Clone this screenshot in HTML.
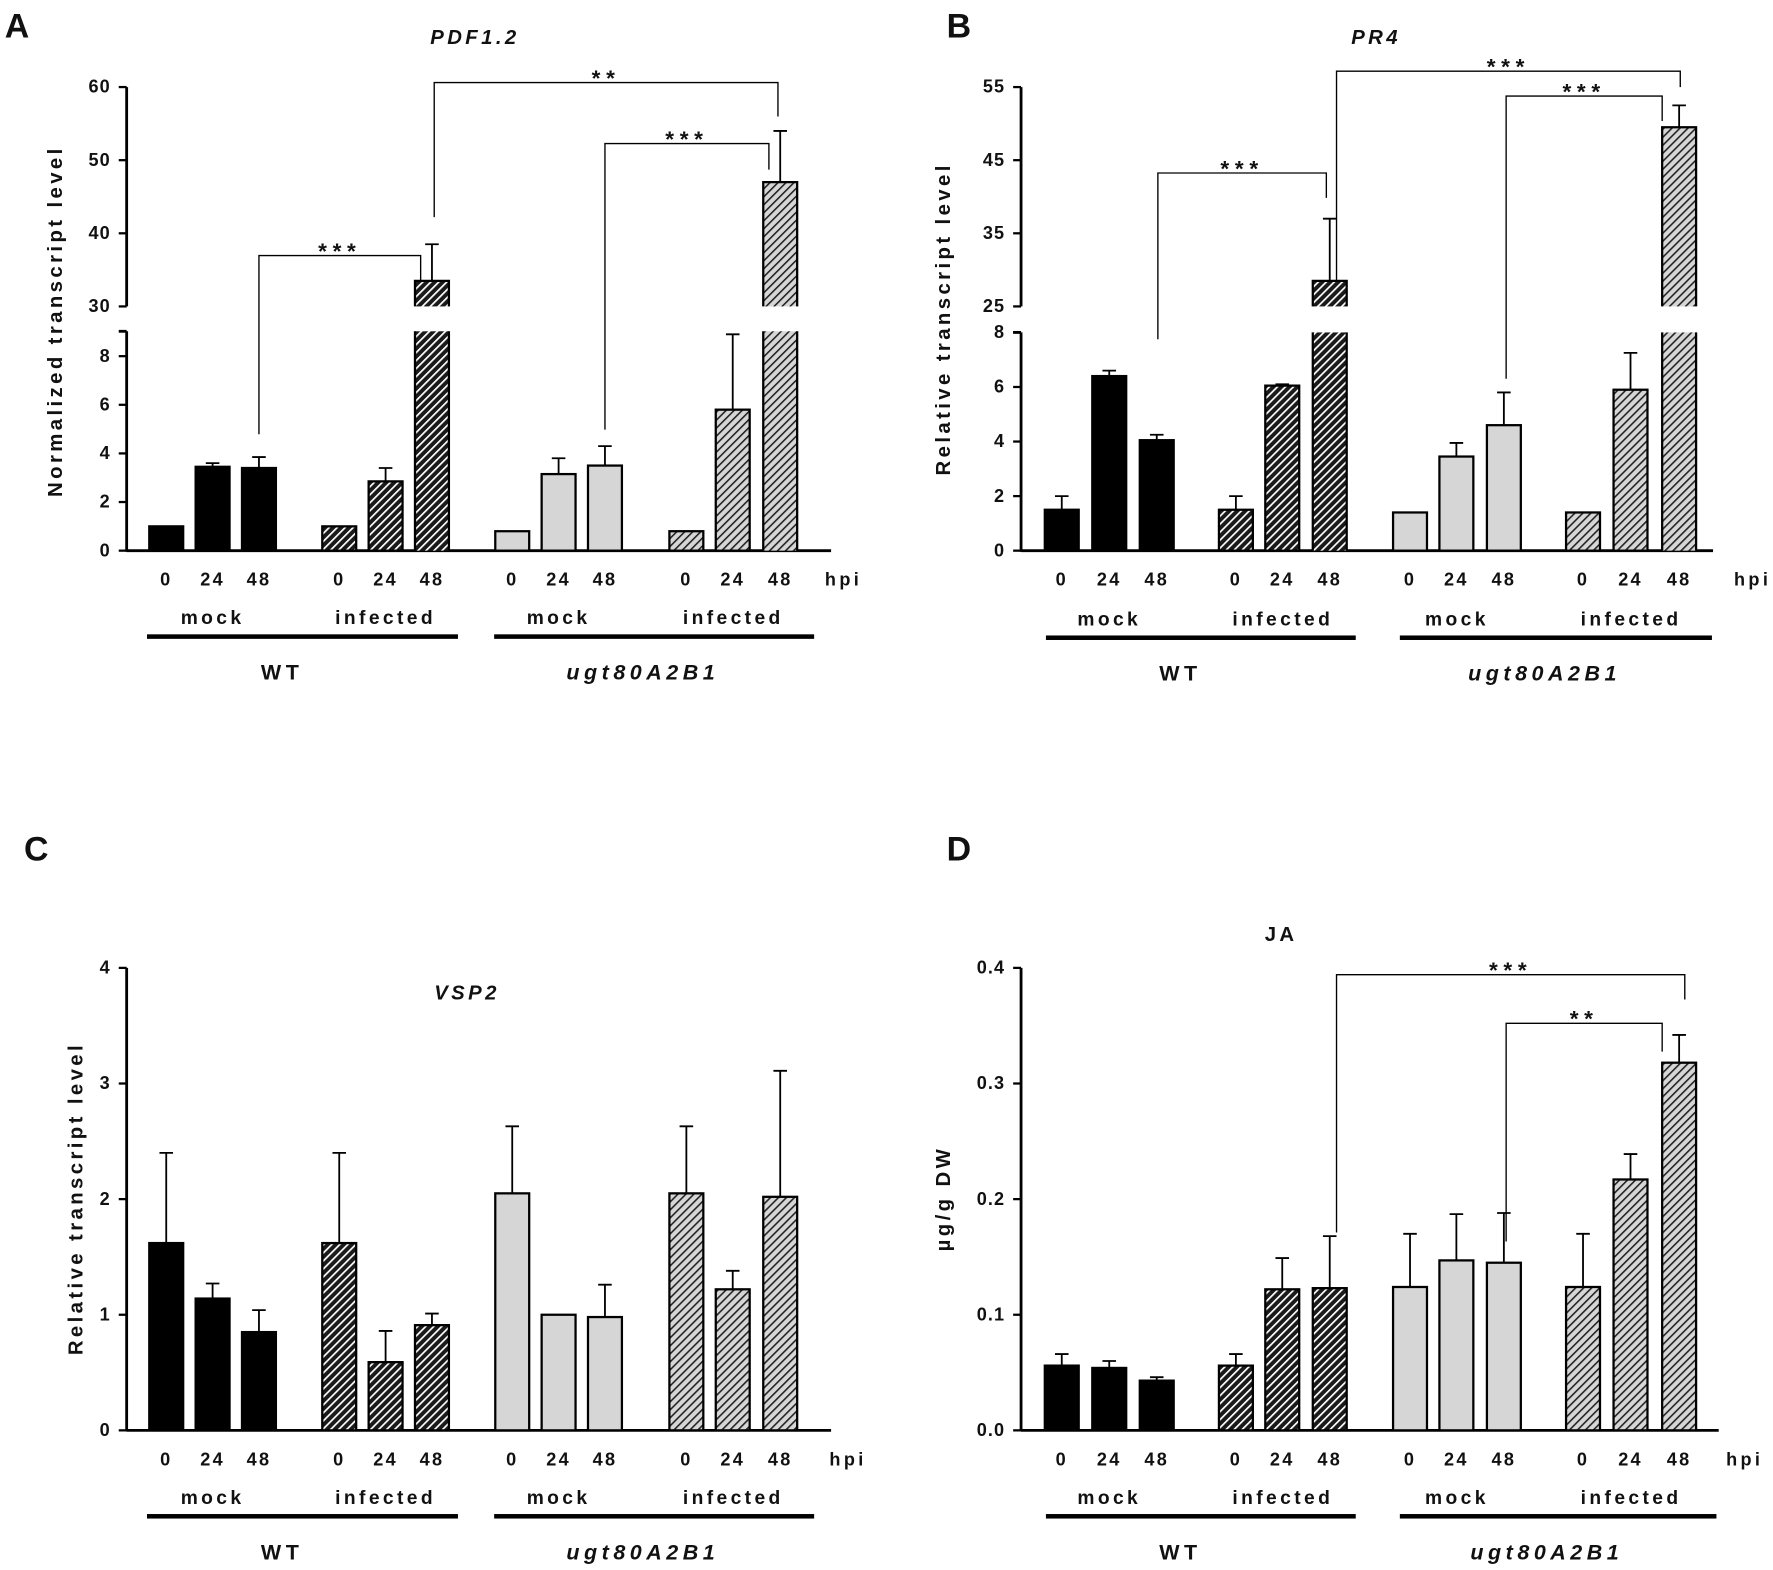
<!DOCTYPE html>
<html><head><meta charset="utf-8"><style>
html,body{margin:0;padding:0;background:#fff}
svg{display:block}
text{font-family:"Liberation Sans",Arial,sans-serif;font-weight:bold;fill:#111}
</style></head><body>
<svg id="fig" width="1773" height="1570" viewBox="0 0 1568 1388.5" xmlns="http://www.w3.org/2000/svg">
<defs>
<pattern id="hBlack" patternUnits="userSpaceOnUse" width="5" height="5" patternTransform="rotate(45)">
<rect width="5" height="5" fill="#1a1a1a"/><rect x="0" y="0" width="1.5" height="5" fill="#fff"/></pattern>
<pattern id="hGray" patternUnits="userSpaceOnUse" width="5" height="5" patternTransform="rotate(45)">
<rect width="5" height="5" fill="#d6d6d6"/><rect x="0" y="0" width="1.4" height="5" fill="#222"/></pattern>
</defs>
</svg>
<script>
const groups = ['WT mock','WT infected','ugt mock','ugt infected'];
const times = ['0','24','48'];
const valsA = [1,3.45,3.4, 1,2.85,33.5, 0.8,3.15,3.5, 0.8,5.8,47];
const errA  = [1,3.6,3.85, 1,3.4,38.5, 0.8,3.8,4.3, 0.8,8.9,54];
const valsB = [1.5,6.4,4.05, 1.5,6.05,28.5, 1.4,3.45,4.6, 1.4,5.9,49.5];
const errB  = [2.0,6.6,4.25, 2.0,6.1,37, 1.4,3.95,5.8, 1.4,7.25,52.5];
const valsC = [1.62,1.14,0.85, 1.62,0.59,0.91, 2.05,1.0,0.98, 2.05,1.22,2.02];
const errC  = [2.4,1.27,1.04, 2.4,0.86,1.01, 2.63,1.0,1.26, 2.63,1.38,3.11];
const valsD = [0.056,0.054,0.043, 0.056,0.122,0.123, 0.124,0.147,0.145, 0.124,0.217,0.318];
const errD  = [0.066,0.060,0.046, 0.066,0.149,0.168, 0.170,0.187,0.188, 0.170,0.239,0.342];
const ticksALow=[0,2,4,6,8], ticksAHigh=[30,40,50,60];
const ticksBLow=[0,2,4,6,8], ticksBHigh=[25,35,45,55];
const ticksC=[0,1,2,3,4];
const ticksD=[0,0.1,0.2,0.3,0.4];
const ticksDLabels=['0.0','0.1','0.2','0.3','0.4'];

const svg=document.getElementById('fig');
const NS='http://www.w3.org/2000/svg';
function mk(tag,attrs,parent){const e=document.createElementNS(NS,tag);for(const k in attrs)e.setAttribute(k,attrs[k]);(parent||svg).appendChild(e);return e;}
function txt(s,x,y,size,opts,parent){opts=opts||{};const t=mk('text',{x:x,y:y,'font-size':size,'text-anchor':opts.anchor||'middle','letter-spacing':opts.ls==null?3:opts.ls},parent);if(opts.italic)t.setAttribute('font-style','italic');if(opts.rot)t.setAttribute('transform',`rotate(-90 ${x} ${y})`);t.textContent=s;return t;}
function fillFor(i){const g=Math.floor(i/3);return ['#000','url(#hBlack)','#d6d6d6','url(#hGray)'][g];}

function panel(cfg){
  const g=mk('g',{});
  
  
  const ax=cfg.ax, y0=cfg.y0;
  let breakVal=0;
  if(cfg.broken) breakVal=(y0-cfg.breakLowY)*cfg.lowMax/(y0-cfg.lowTopY);
  function y(v){
    if(!cfg.broken) return y0-(v-cfg.min)*(y0-cfg.yTop)/(cfg.max-cfg.min);
    if(v<=breakVal) return y0-v*(y0-cfg.lowTopY)/cfg.lowMax;
    return cfg.hiMinY-(v-cfg.hiMin)*(cfg.hiMinY-cfg.hiTopY)/(cfg.hiMax-cfg.hiMin);
  }
  const axis=mk('g',{},g);
  
  
  if(cfg.broken){
    mk('line',{x1:ax,y1:y0+1,x2:ax,y2:cfg.breakLowY,stroke:'#000','stroke-width':2.5},axis);
    mk('line',{x1:ax,y1:cfg.hiMinY,x2:ax,y2:cfg.hiTopY,stroke:'#000','stroke-width':2.5},axis);
    mk('line',{x1:ax-7,y1:cfg.breakLowY,x2:ax,y2:cfg.breakLowY,stroke:'#000','stroke-width':2.5},axis);
    cfg.ticksLow.forEach(t=>{const yy=y(t);mk('line',{x1:ax-7,y1:yy,x2:ax,y2:yy,stroke:'#000','stroke-width':2},axis);txt(String(t),ax-14,yy+5,16,{anchor:'end',ls:1},axis);});
    cfg.ticksHigh.forEach(t=>{const yy=y(t);mk('line',{x1:ax-7,y1:yy,x2:ax,y2:yy,stroke:'#000','stroke-width':2},axis);txt(String(t),ax-14,yy+5,16,{anchor:'end',ls:1},axis);});
  } else {
    mk('line',{x1:ax,y1:y0+1,x2:ax,y2:cfg.yTop,stroke:'#000','stroke-width':2.5},axis);
    cfg.ticks.forEach((t,i)=>{const yy=y(t);mk('line',{x1:ax-7,y1:yy,x2:ax,y2:yy,stroke:'#000','stroke-width':2},axis);txt(cfg.tickLabels?cfg.tickLabels[i]:String(t),ax-14,yy+5,16,{anchor:'end',ls:1},axis);});
  }
  const xa=mk('line',{x1:ax,y1:y0,x2:cfg.axEnd,y2:y0,stroke:'#000','stroke-width':2.5},g);
  
  
  const bw=30;
  cfg.vals.forEach((v,i)=>{
    const cx=cfg.xs[i];
    const bg=mk('g',{},g);
    
    
    const f=fillFor(i);
    if(cfg.broken && v>breakVal){
      mk('rect',{x:cx-bw/2,y:cfg.breakLowY,width:bw,height:y0-cfg.breakLowY,fill:f,stroke:'none'},bg);
      mk('path',{d:`M${cx-bw/2} ${cfg.breakLowY}V${y0}M${cx+bw/2} ${cfg.breakLowY}V${y0}`,stroke:'#000','stroke-width':2},bg);
      const yt=y(v);
      mk('rect',{x:cx-bw/2,y:yt,width:bw,height:cfg.hiMinY-yt,fill:f,stroke:'none'},bg);
      mk('path',{d:`M${cx-bw/2} ${cfg.hiMinY}V${yt}H${cx+bw/2}V${cfg.hiMinY}`,stroke:'#000','stroke-width':2,fill:'none'},bg);
    } else {
      const yt=y(v);
      mk('rect',{x:cx-bw/2,y:yt,width:bw,height:y0-yt,fill:f,stroke:'#000','stroke-width':2},bg);
    }
    const e=cfg.errs[i];
    if(e>v){
      const ye=y(e), yt=y(v);
      mk('path',{d:`M${cx} ${yt}V${ye}M${cx-6} ${ye}H${cx+6}`,stroke:'#000','stroke-width':1.6,fill:'none'},bg);
    }
  });
  cfg.vals.forEach((v,i)=>{txt(times[i%3],cfg.xs[i],cfg.tickY,16,{ls:2},g);});
  txt('hpi',cfg.hpiX,cfg.tickY,16,{ls:3},g);
  const lb=cfg.labY;
  [[0,'mock'],[1,'infected'],[2,'mock'],[3,'infected']].forEach(([k,s])=>{
    const cx=(cfg.xs[k*3]+cfg.xs[k*3+2])/2;
    txt(s,cx,lb,17,{ls:3},g);
  });
  cfg.lines.forEach(([a,b],k)=>{
    const l=mk('rect',{x:a,y:lb+9,width:b-a,height:4,fill:'#000'},g);
    
    
    txt(k?'ugt80A2B1':'WT',(a+b)/2+(k?-10:-18),lb+49,19,{ls:4,italic:!!k},g);
  });
  (cfg.brackets||[]).forEach(b=>{
    const [x1,yl,x2,yr,ytop,stars]=b;
    const bk=mk('g',{},g);
    
    
    mk('path',{d:`M${x1} ${yl}V${ytop}H${x2}V${yr}`,stroke:'#000','stroke-width':1.2,fill:'none'},bk);
    txt(stars,(x1+x2)/2,ytop+3,20,{ls:5},bk);
  });
  if(cfg.title){const t=txt(cfg.title[0],cfg.title[1],cfg.title[2],18,{ls:3,italic:cfg.title[3]},g);}
  const yl=txt(cfg.ylab[0],cfg.ylab[1],cfg.ylab[2],18,{ls:3,rot:true},g);
  
  
  const L=txt(cfg.letter[0],cfg.letter[1],cfg.letter[2],30,{ls:0},g);
  
  
}
const xsL=[147,188,229,300,341,382,453,494,535,607,648,690];
const xsR=[939,981,1023,1093,1134,1176,1247,1288,1330,1400,1442,1485];
panel({name:'panel-a-pdf12',ax:112,y0:487,broken:true,lowMax:8,lowTopY:315,breakLowY:293,hiMin:30,hiMinY:271,hiMax:60,hiTopY:77,
  ticksLow:ticksALow,ticksHigh:ticksAHigh,axEnd:735,vals:valsA,errs:errA,xs:xsL,tickY:518,hpiX:746,labY:552,lines:[[130,405],[437,720]],
  brackets:[[229,384,372,250,226,'***'],[384,192,688,103,73,'**'],[535,380,680,150,127,'***']],
  title:['PDF1.2',420,39,true],ylab:['Normalized transcript level',55,284],letter:['A',15,33]});
panel({name:'panel-b-pr4',ax:903,y0:487,broken:true,lowMax:8,lowTopY:294,breakLowY:294,hiMin:25,hiMinY:271,hiMax:55,hiTopY:77,
  ticksLow:ticksBLow,ticksHigh:ticksBHigh,axEnd:1515,vals:valsB,errs:errB,xs:xsR,tickY:518,hpiX:1550,labY:553,lines:[[925,1199],[1238,1514]],
  brackets:[[1024,300,1173,175,153,'***'],[1182,248,1486,77,63,'***'],[1332,335,1470,107,85,'***']],
  title:['PR4',1217,39,true],ylab:['Relative transcript level',840,282],letter:['B',848,33]});
panel({name:'panel-c-vsp2',ax:112,y0:1265,broken:false,min:0,max:4,yTop:856,ticks:ticksC,axEnd:735,vals:valsC,errs:errC,xs:xsL,tickY:1296,hpiX:750,labY:1330,lines:[[130,405],[437,720]],
  title:['VSP2',413,884,true],ylab:['Relative transcript level',73,1060],letter:['C',32,761]});
panel({name:'panel-d-ja',ax:903,y0:1265,broken:false,min:0,max:0.4,yTop:856,ticks:ticksD,tickLabels:ticksDLabels,axEnd:1520,vals:valsD,errs:errD,xs:xsR,tickY:1296,hpiX:1543,labY:1330,lines:[[925,1199],[1238,1518]],
  brackets:[[1182,1090,1490,884,862,'***'],[1332,1098,1470,930,905,'**']],
  title:['JA',1133,832,false],ylab:['µg/g DW',840,1060],letter:['D',848,761]});
</script>
</body></html>
